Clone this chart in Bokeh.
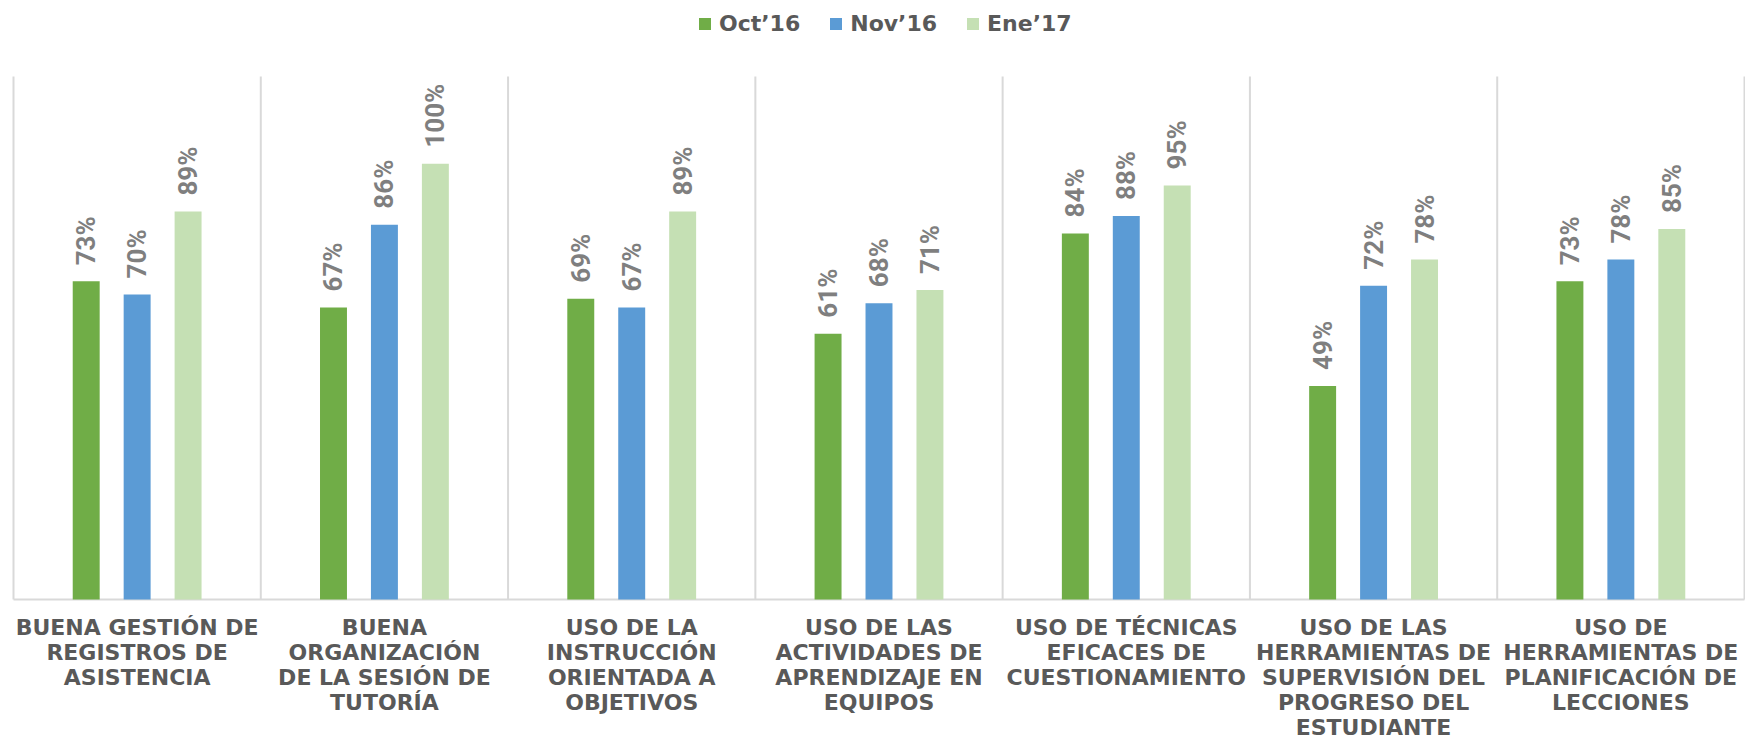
from bokeh.plotting import figure
from bokeh.models import Range1d, Legend, LegendItem, ColumnDataSource
from bokeh.core.properties import value
from bokeh.embed import file_html
from bokeh.resources import INLINE
import math

categories = [
    "BUENA GESTIÓN DE\nREGISTROS DE\nASISTENCIA",
    "BUENA\nORGANIZACIÓN\nDE LA SESIÓN DE\nTUTORÍA",
    "USO DE LA\nINSTRUCCIÓN\nORIENTADA A\nOBJETIVOS",
    "USO DE LAS\nACTIVIDADES DE\nAPRENDIZAJE EN\nEQUIPOS",
    "USO DE TÉCNICAS\nEFICACES DE\nCUESTIONAMIENTO",
    "USO DE LAS\nHERRAMIENTAS DE\nSUPERVISIÓN DEL\nPROGRESO DEL\nESTUDIANTE",
    "USO DE\nHERRAMIENTAS DE\nPLANIFICACIÓN DE\nLECCIONES",
]
series_names = ["Oct’16", "Nov’16", "Ene’17"]
oct16 = [73, 67, 69, 61, 84, 49, 73]
nov16 = [70, 86, 67, 68, 88, 72, 78]
ene17 = [89, 100, 89, 71, 95, 78, 85]
y_max = 120

series_values = [oct16, nov16, ene17]
colors = ["#70AD47", "#5B9BD5", "#C5E0B4"]
offsets = [-0.206, 0.0, 0.206]
bar_w = 0.109

n = len(categories)
FONT = "DejaVu Sans"

# ---- layout (canvas pixels) ----
W, H = 1745, 741
plot_left, plot_right = 13, 1744     # x positions of first / last category boundary
plot_top, plot_bottom = 76, 599      # y positions of axis max / baseline
cat_px = (plot_right - plot_left) / n
unit_px = (plot_bottom - plot_top) / y_max
x_range = Range1d(-plot_left / cat_px, n + (W - plot_right) / cat_px)
y_range = Range1d(-(H - plot_bottom) / unit_px, y_max + plot_top / unit_px)

p = figure(width=W, height=H, x_range=x_range, y_range=y_range,
           output_backend="svg", toolbar_location=None,
           x_axis_location=None, y_axis_location=None,
           min_border_left=0, min_border_right=0, min_border_top=0, min_border_bottom=0)
p.outline_line_color = None
p.grid.visible = False
p.background_fill_color = "white"
p.border_fill_color = "white"

# category separators and baseline
bounds = list(range(n + 1))
p.segment(x0=bounds, y0=[0] * len(bounds), x1=bounds, y1=[y_max] * len(bounds),
          line_color="#d9d9d9", line_width=2)
p.segment(x0=[bounds[0]], y0=[0], x1=[bounds[-1]], y1=[0], line_color="#d9d9d9", line_width=2)

# category labels
cat_src = ColumnDataSource(dict(x=[i + 0.5 for i in range(n)], y=[0] * n, t=categories))
p.text(x="x", y="y", text="t", source=cat_src, y_offset=15,
       text_align="center", text_baseline="top", text_line_height=1.0,
       text_font=value(FONT), text_font_style="bold", text_font_size="22px",
       text_color="#595959")

renderers = []
for vals, col, off in zip(series_values, colors, offsets):
    xs = [i + 0.5 + off for i in range(n)]
    src = ColumnDataSource(dict(x=xs, top=vals, lab=[f"{v}%" for v in vals]))
    r = p.vbar(x="x", top="top", width=bar_w, bottom=0, source=src,
               fill_color=col, line_color=None)
    renderers.append(r)
    p.text(x="x", y="top", text="lab", source=src, angle=math.pi / 2,
           text_align="left", text_baseline="middle", y_offset=-16,
           text_font=value("Roboto"), text_font_style="bold", text_font_size="26px",
           text_color="#7f7f7f")

legend = Legend(items=[LegendItem(label=nm, renderers=[r]) for nm, r in zip(series_names, renderers)],
                orientation="horizontal", location=(697, H - 36))
legend.border_line_color = None
legend.background_fill_alpha = 0
legend.glyph_width = 15
legend.glyph_height = 15
legend.label_text_font = FONT
legend.label_text_font_size = "22px"
legend.label_text_font_style = "bold"
legend.label_text_color = "#595959"
legend.spacing = 28
legend.label_standoff = 7
legend.padding = 0
legend.margin = 0
p.add_layout(legend)

open("out.html", "w").write(file_html(p, INLINE))
